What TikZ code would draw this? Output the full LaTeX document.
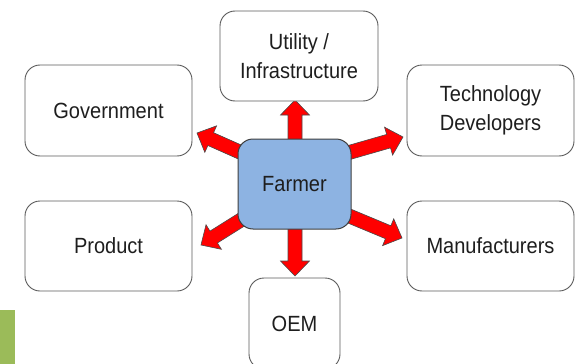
\documentclass[tikz,border=0pt]{standalone}
\usepackage{fontspec}
\setmainfont{Liberation Sans}[FakeStretch=0.91]
\usetikzlibrary{calc,backgrounds}
\definecolor{farmerblue}{HTML}{8DB3E2}
\definecolor{boxline}{HTML}{5A5A5A}
\definecolor{farmline}{HTML}{3F3F3F}
\definecolor{txt}{HTML}{1E1E1E}
\definecolor{arrline}{HTML}{4A4A4A}
\definecolor{accentgreen}{HTML}{9BBB59}
\tikzset{
  rolebox/.style={draw=boxline, line width=0.9pt, rounded corners=15pt, fill=white,
    align=center, text=txt, font=\fontsize{22}{29}\selectfont, inner sep=0pt},
  farmerbox/.style={draw=farmline, line width=1pt, rounded corners=15pt, fill=farmerblue,
    text=txt, font=\fontsize{22}{29}\selectfont, minimum width=113pt, minimum height=90pt},
  fatarr/.style={fill=red, draw=arrline, line width=0.6pt, line join=miter}
}
\newcommand\fatarrow[2]{%
  \path ($(#2)!15pt!(#1)$) coordinate (fah);
  \draw[fatarr] ($(#1)!7pt!90:(#2)$) -- ($(fah)!7pt!90:(#2)$) -- ($(fah)!14.5pt!90:(#2)$)
    -- (#2) -- ($(fah)!14.5pt!-90:(#2)$) -- ($(fah)!7pt!-90:(#2)$) -- ($(#1)!7pt!-90:(#2)$) -- cycle;
}
\begin{document}
\begin{tikzpicture}[x=1pt,y=-1pt]
\useasboundingbox (0,0) rectangle (576,364);
\fill[accentgreen] (0,310) rectangle (15,364);
\node[rolebox, minimum width=167pt, minimum height=91pt] (gov) at (108.5,110.5) {Government};
\node[rolebox, minimum width=158pt, minimum height=90pt] (util) at (299,56) {Utility /\\Infrastructure};
\node[rolebox, minimum width=167pt, minimum height=91pt] (tech) at (490.5,110.5) {Technology\\Developers};
\node[rolebox, minimum width=167pt, minimum height=90pt] (prod) at (108.5,246) {Product};
\node[rolebox, minimum width=167pt, minimum height=90pt] (manu) at (490.5,246) {Manufacturers};
\node[rolebox, minimum width=91pt, minimum height=91pt] (oem) at (294.5,323.5) {OEM};
\node[farmerbox] (farmer) at (294.5,184) {Farmer};
% arrow start and tip points
\coordinate (sU) at ($(farmer.center)+(0.5,0)$);
\coordinate (sD) at ($(farmer.center)+(0.5,0)$);
\coordinate (sUL) at ($(farmer.center)+(-34.5,-23)$);
\coordinate (sUR) at ($(farmer.center)+(35.5,-26)$);
\coordinate (sLL) at ($(farmer.center)+(-34.5,24)$);
\coordinate (sLR) at ($(farmer.center)+(35.5,24)$);
\coordinate (tU) at (295,100);
\coordinate (tD) at (295,276);
\coordinate (tUL) at (197,133);
\coordinate (tUR) at (403,137);
\coordinate (tLL) at (201,245);
\coordinate (tLR) at (402,238);
\begin{scope}[on background layer]
\fatarrow{sU}{tU}
\fatarrow{sD}{tD}
\fatarrow{sUL}{tUL}
\fatarrow{sUR}{tUR}
\fatarrow{sLL}{tLL}
\fatarrow{sLR}{tLR}
\end{scope}
\end{tikzpicture}
\end{document}
